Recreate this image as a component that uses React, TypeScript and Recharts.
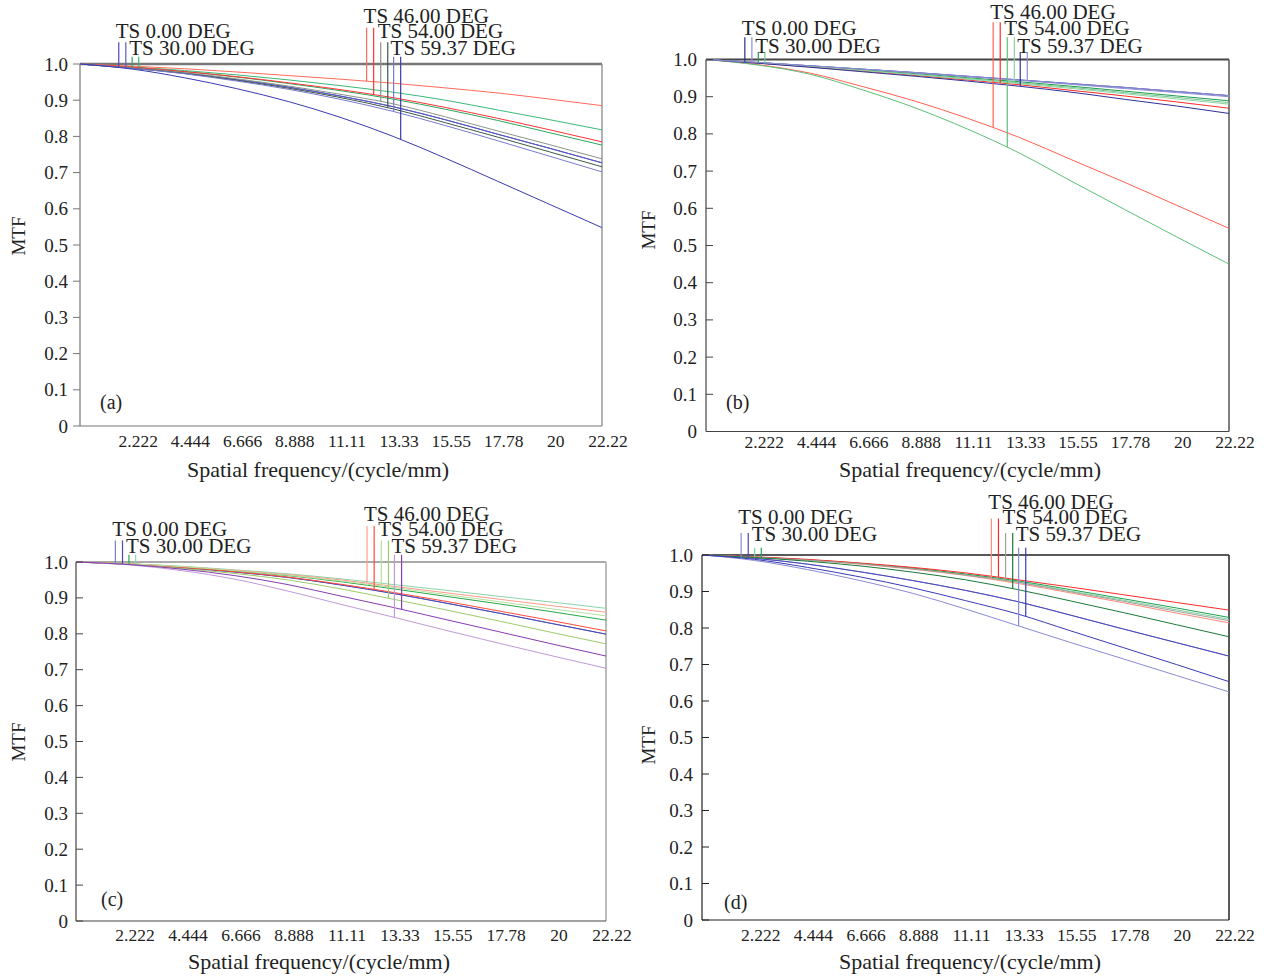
import { LineChart, Line, XAxis, YAxis, ReferenceLine, ReferenceDot } from 'recharts'

// spatial frequency samples (cycle/mm)
const FREQ = [0, 2.222, 4.444, 6.666, 8.888, 11.11, 13.33, 15.55, 17.78, 20, 22.22]
const X_TICKS = [2.222, 4.444, 6.666, 8.888, 11.11, 13.33, 15.55, 17.78, 20, 22.22]
const Y_TICKS = [0, 0.1, 0.2, 0.3, 0.4, 0.5, 0.6, 0.7, 0.8, 0.9, 1]
const FIELDS = ['TS 0.00 DEG', 'TS 30.00 DEG', 'TS 46.00 DEG', 'TS 54.00 DEG', 'TS 59.37 DEG']
// frequency where each field's T / S marker is drawn
const MARKER_X = [1.65, 1.95, 2.22, 2.5, 12.2, 12.5, 12.8, 13.1, 13.35, 13.65]

// (a)
const A_F0 = [1, 0.989, 0.975, 0.957, 0.936, 0.911, 0.882, 0.846, 0.806, 0.767, 0.727]
const A_F30T = [1, 0.991, 0.979, 0.964, 0.946, 0.926, 0.903, 0.875, 0.844, 0.81, 0.776]
const A_F30S = [1, 0.992, 0.982, 0.97, 0.956, 0.94, 0.922, 0.9, 0.873, 0.846, 0.818]
const A_F46T = [1, 0.994, 0.987, 0.978, 0.968, 0.958, 0.947, 0.934, 0.92, 0.903, 0.885]
const A_F46S = [1, 0.991, 0.979, 0.965, 0.948, 0.929, 0.907, 0.88, 0.85, 0.818, 0.785]
const A_F54T = [1, 0.989, 0.976, 0.959, 0.939, 0.916, 0.89, 0.854, 0.815, 0.777, 0.738]
const A_F54S = [1, 0.988, 0.974, 0.955, 0.933, 0.907, 0.876, 0.838, 0.798, 0.757, 0.716]
const A_F59T = [1, 0.988, 0.973, 0.953, 0.93, 0.902, 0.869, 0.83, 0.788, 0.745, 0.702]
const A_F59S = [1, 0.986, 0.962, 0.932, 0.896, 0.852, 0.8, 0.74, 0.676, 0.612, 0.548]

// (b)
const B_F0 = [1, 0.992, 0.983, 0.974, 0.965, 0.955, 0.945, 0.935, 0.925, 0.914, 0.903]
const B_F30T = [1, 0.991, 0.982, 0.972, 0.962, 0.951, 0.94, 0.928, 0.915, 0.902, 0.889]
const B_F30S = [1, 0.991, 0.981, 0.971, 0.96, 0.949, 0.937, 0.925, 0.911, 0.898, 0.884]
const B_F46T = [1, 0.986, 0.963, 0.927, 0.888, 0.842, 0.79, 0.73, 0.67, 0.608, 0.546]
const B_F46S = [1, 0.99, 0.98, 0.969, 0.957, 0.945, 0.932, 0.917, 0.902, 0.886, 0.869]
const B_F54T = [1, 0.985, 0.96, 0.918, 0.87, 0.813, 0.748, 0.672, 0.597, 0.523, 0.45]
const B_F54S = [1, 0.991, 0.981, 0.97, 0.959, 0.947, 0.935, 0.922, 0.908, 0.894, 0.88]
const B_F59T = [1, 0.99, 0.979, 0.967, 0.955, 0.942, 0.928, 0.912, 0.893, 0.875, 0.855]
const B_F59S = [1, 0.992, 0.983, 0.974, 0.964, 0.954, 0.944, 0.933, 0.922, 0.911, 0.9]

// (c)
const C_F0 = [1, 0.994, 0.984, 0.972, 0.957, 0.936, 0.912, 0.885, 0.857, 0.828, 0.799]
const C_F30T = [1, 0.995, 0.986, 0.975, 0.962, 0.945, 0.925, 0.904, 0.883, 0.861, 0.838]
const C_F30S = [1, 0.995, 0.988, 0.978, 0.967, 0.953, 0.937, 0.921, 0.904, 0.888, 0.871]
const C_F46T = [1, 0.995, 0.987, 0.977, 0.965, 0.95, 0.932, 0.914, 0.896, 0.878, 0.86]
const C_F46S = [1, 0.994, 0.985, 0.973, 0.958, 0.938, 0.915, 0.89, 0.863, 0.836, 0.808]
const C_F54T = [1, 0.995, 0.987, 0.976, 0.963, 0.947, 0.929, 0.909, 0.889, 0.869, 0.85]
const C_F54S = [1, 0.993, 0.982, 0.968, 0.95, 0.925, 0.896, 0.866, 0.835, 0.803, 0.772]
const C_F59T = [1, 0.992, 0.976, 0.952, 0.919, 0.882, 0.846, 0.809, 0.773, 0.738, 0.704]
const C_F59S = [1, 0.993, 0.98, 0.962, 0.937, 0.905, 0.873, 0.839, 0.805, 0.771, 0.738]

// (d)
const D_F0 = [1, 0.991, 0.975, 0.954, 0.93, 0.903, 0.872, 0.835, 0.797, 0.76, 0.723]
const D_F30T = [1, 0.994, 0.986, 0.976, 0.963, 0.946, 0.926, 0.901, 0.876, 0.85, 0.824]
const D_F30S = [1, 0.994, 0.987, 0.977, 0.964, 0.948, 0.929, 0.905, 0.88, 0.855, 0.829]
const D_F46T = [1, 0.994, 0.986, 0.975, 0.961, 0.944, 0.922, 0.896, 0.869, 0.841, 0.814]
const D_F46S = [1, 0.995, 0.988, 0.978, 0.966, 0.951, 0.932, 0.912, 0.891, 0.87, 0.849]
const D_F54T = [1, 0.994, 0.986, 0.976, 0.962, 0.945, 0.925, 0.899, 0.873, 0.846, 0.82]
const D_F54S = [1, 0.993, 0.983, 0.97, 0.953, 0.932, 0.905, 0.874, 0.842, 0.809, 0.776]
const D_F59T = [1, 0.985, 0.96, 0.93, 0.895, 0.852, 0.806, 0.76, 0.715, 0.67, 0.625]
const D_F59S = [1, 0.988, 0.966, 0.94, 0.91, 0.875, 0.838, 0.792, 0.746, 0.7, 0.653]

const KEYS = ['f0T', 'f0S', 'f1T', 'f1S', 'f2T', 'f2S', 'f3T', 'f3S', 'f4T', 'f4S']
// label row (in MTF units, above the frame) for each field, and the text offset from it
const LABEL_ROW = [1.06, 1.02, 1.1, 1.06, 1.02]
const LABEL_DY = [-4, -1.5, -5, -4, -1.5]
const FONT = '"Liberation Serif", "Times New Roman", serif'
const INK = '#222'

const PANELS = [
  {
    letter: '(a)', left: 0, top: 0,
    margin: { top: 64, right: 31, bottom: 33, left: 0 }, yW: 80, yGap: 12, xGap: 15, inward: false, rightTicks: false, labelShift: 0,
    axis: '#777', topLine: { stroke: '#777', w: 2.5 }, rightLine: { stroke: '#999', w: 1.5 },
    mtf: [18, 236], xTitle: [318, 470], tag: [100, 402],
    series: { f0T: A_F0, f0S: A_F0, f1T: A_F30T, f1S: A_F30S, f2T: A_F46T, f2S: A_F46S, f3T: A_F54T, f3S: A_F54S, f4T: A_F59T, f4S: A_F59S },
    colors: { f0T: '#4a4ab8', f0S: '#5a5ac4', f1T: '#2aa860', f1S: '#3cb878', f2T: '#ff6a5a', f2S: '#ff3333', f3T: '#8a968a', f3S: '#3c5a46', f4T: '#7a7ad0', f4S: '#3a3ab0' },
  },
  {
    letter: '(b)', left: 633, top: 0,
    margin: { top: 59.5, right: 37, bottom: 27.5, left: 0 }, yW: 73, yGap: 9, xGap: 10, inward: true, rightTicks: false, labelShift: 2,
    axis: '#444', topLine: { stroke: '#444', w: 2 }, rightLine: { stroke: '#555', w: 1.5 },
    mtf: [15, 230], xTitle: [337, 470], tag: [93, 402],
    series: { f0T: B_F0, f0S: B_F0, f1T: B_F30T, f1S: B_F30S, f2T: B_F46T, f2S: B_F46S, f3T: B_F54T, f3S: B_F54S, f4T: B_F59T, f4S: B_F59S },
    colors: { f0T: '#2a2a9a', f0S: '#8c8cd4', f1T: '#1f9a50', f1S: '#74c890', f2T: '#ff6050', f2S: '#ff2a2a', f3T: '#5cc078', f3S: '#90d4a4', f4T: '#303098', f4S: '#8c8cd4' },
  },
  {
    letter: '(c)', left: 0, top: 489,
    margin: { top: 73, right: 27, bottom: 27, left: 0 }, yW: 76, yGap: 8, xGap: 14, inward: true, rightTicks: true, labelShift: 0,
    axis: '#444', topLine: { stroke: '#aaa', w: 2 }, rightLine: { stroke: '#bbb', w: 2 },
    mtf: [18, 253], xTitle: [319, 473], tag: [101, 410],
    series: { f0T: C_F0, f0S: C_F0, f1T: C_F30T, f1S: C_F30S, f2T: C_F46T, f2S: C_F46S, f3T: C_F54T, f3S: C_F54S, f4T: C_F59T, f4S: C_F59S },
    colors: { f0T: '#7a7ad0', f0S: '#4848b0', f1T: '#28a848', f1S: '#8cd4a8', f2T: '#ff9c8c', f2S: '#ff4a3a', f3T: '#b8e0a0', f3S: '#9ccc6a', f4T: '#c09ad8', f4S: '#8a3cb0' },
  },
  {
    letter: '(d)', left: 633, top: 489,
    margin: { top: 66, right: 37, bottom: 28, left: 0 }, yW: 69, yGap: 9, xGap: 15, inward: true, rightTicks: false, labelShift: -5,
    axis: '#222', topLine: { stroke: '#222', w: 1.5 }, rightLine: { stroke: '#222', w: 1.5 },
    mtf: [15, 256], xTitle: [337, 473], tag: [91, 413],
    series: { f0T: D_F0, f0S: D_F0, f1T: D_F30T, f1S: D_F30S, f2T: D_F46T, f2S: D_F46S, f3T: D_F54T, f3S: D_F54S, f4T: D_F59T, f4S: D_F59S },
    colors: { f0T: '#8a8ad4', f0S: '#4848b8', f1T: '#80d0a0', f1S: '#20a050', f2T: '#ff8a7a', f2S: '#ff2a2a', f3T: '#9aa29a', f3S: '#1a7a3a', f4T: '#8a8ad4', f4S: '#3a3ab4' },
  },
]

function valueAt(arr: number[], x: number) {
  for (let i = 0; i < FREQ.length - 1; i++) {
    if (x >= FREQ[i] && x <= FREQ[i + 1]) {
      const t = (x - FREQ[i]) / (FREQ[i + 1] - FREQ[i])
      return arr[i] + (arr[i + 1] - arr[i]) * t
    }
  }
  return arr[arr.length - 1]
}

function XTick({ x, y, payload }: any) {
  return (
    <text x={x + 6} y={y} textAnchor="middle" dominantBaseline="central" fontFamily={FONT} fontSize={17.5} fill={INK}>
      {String(payload.value)}
    </text>
  )
}

function YTick({ x, y, payload, gap, inward, stroke }: any) {
  const ax = x + gap
  const v = payload.value
  return (
    <g>
      <line x1={ax} x2={inward ? ax + 7 : ax - 7} y1={y} y2={y} stroke={stroke} strokeWidth={1} />
      <text x={x} y={y} textAnchor="end" dominantBaseline="central" fontFamily={FONT} fontSize={19} fill={INK}>
        {v === 0 ? '0' : v.toFixed(1)}
      </text>
    </g>
  )
}

function RightTick({ x, y, stroke }: any) {
  return <line x1={x} x2={x - 7} y1={y} y2={y} stroke={stroke} strokeWidth={1} />
}

function FieldLabel({ cx, cy, dy, text }: any) {
  return (
    <text x={cx - 3} y={cy + dy} fontFamily={FONT} fontSize={21} fill={INK}>
      {text}
    </text>
  )
}

function Panel({ p }: { p: any }) {
  const rows = FREQ.map((f, i) => {
    const row: Record<string, number> = { f }
    KEYS.forEach((k) => (row[k] = p.series[k][i]))
    return row
  })

  // T/S marker lines from the label row down to the curve, plus the field labels
  const markers = FIELDS.flatMap((label, fi) => {
    const top = LABEL_ROW[fi]
    const xT = MARKER_X[2 * fi]
    const xS = MARKER_X[2 * fi + 1]
    const kT = KEYS[2 * fi]
    const kS = KEYS[2 * fi + 1]
    const dy = LABEL_DY[fi] + p.labelShift
    return [
      <ReferenceLine
        key={`mT${fi}`}
        segment={[{ x: xT, y: top }, { x: xT, y: valueAt(p.series[kT], xT) }]}
        stroke={p.colors[kT]}
        strokeWidth={1.2}
        ifOverflow="visible"
      />,
      <ReferenceLine
        key={`mS${fi}`}
        segment={[{ x: xS, y: top }, { x: xS, y: valueAt(p.series[kS], xS) }]}
        stroke={p.colors[kS]}
        strokeWidth={1.2}
        ifOverflow="visible"
      />,
      <ReferenceDot
        key={`lb${fi}`}
        x={xT}
        y={top}
        r={0}
        ifOverflow="visible"
        shape={(props: any) => <FieldLabel cx={props.cx} cy={props.cy} dy={dy} text={label} />}
      />,
    ]
  })

  const textBase = { position: 'absolute' as const, fontFamily: FONT, color: INK, lineHeight: 1, whiteSpace: 'nowrap' as const }

  return (
    <div style={{ position: 'absolute', left: p.left, top: p.top, width: 633, height: 489 }}>
      <LineChart width={633} height={489} data={rows} margin={p.margin}>
        <XAxis
          type="number"
          dataKey="f"
          domain={[0, 22.22]}
          ticks={X_TICKS}
          interval={0}
          tickSize={0}
          tickLine={false}
          tickMargin={p.xGap}
          height={30}
          axisLine={{ stroke: p.axis, strokeWidth: 1.2 }}
          tick={<XTick />}
        />
        <YAxis
          type="number"
          domain={[0, 1]}
          ticks={Y_TICKS}
          interval={0}
          tickSize={0}
          tickLine={false}
          tickMargin={p.yGap}
          width={p.yW}
          axisLine={{ stroke: p.axis, strokeWidth: 1.2 }}
          tick={<YTick gap={p.yGap} inward={p.inward} stroke={p.axis} />}
        />
        {p.rightTicks && (
          <YAxis
            yAxisId="right"
            orientation="right"
            type="number"
            domain={[0, 1]}
            ticks={Y_TICKS}
            interval={0}
            tickSize={0}
            tickLine={false}
            tickMargin={0}
            width={0}
            axisLine={false}
            tick={<RightTick stroke="#999" />}
          />
        )}
        <ReferenceLine y={1} stroke={p.topLine.stroke} strokeWidth={p.topLine.w} />
        <ReferenceLine x={22.22} stroke={p.rightLine.stroke} strokeWidth={p.rightLine.w} />
        {KEYS.map((k) => (
          <Line
            key={k}
            type="monotone"
            dataKey={k}
            stroke={p.colors[k]}
            strokeWidth={1}
            dot={false}
            activeDot={false}
            isAnimationActive={false}
          />
        ))}
        {markers}
      </LineChart>
      <div style={{ ...textBase, left: p.mtf[0], top: p.mtf[1], fontSize: 19, transform: 'translate(-50%, -50%) rotate(-90deg)' }}>MTF</div>
      <div style={{ ...textBase, left: p.xTitle[0], top: p.xTitle[1], fontSize: 22, transform: 'translate(-50%, -50%)' }}>
        Spatial frequency/(cycle/mm)
      </div>
      <div style={{ ...textBase, left: p.tag[0], top: p.tag[1], fontSize: 20, transform: 'translateY(-50%)' }}>{p.letter}</div>
    </div>
  )
}

export default function App() {
  return (
    <div style={{ position: 'absolute', left: 0, top: 0, width: 1266, height: 978, background: '#fff', overflow: 'hidden' }}>
      {PANELS.map((p) => (
        <Panel key={p.letter} p={p} />
      ))}
    </div>
  )
}
